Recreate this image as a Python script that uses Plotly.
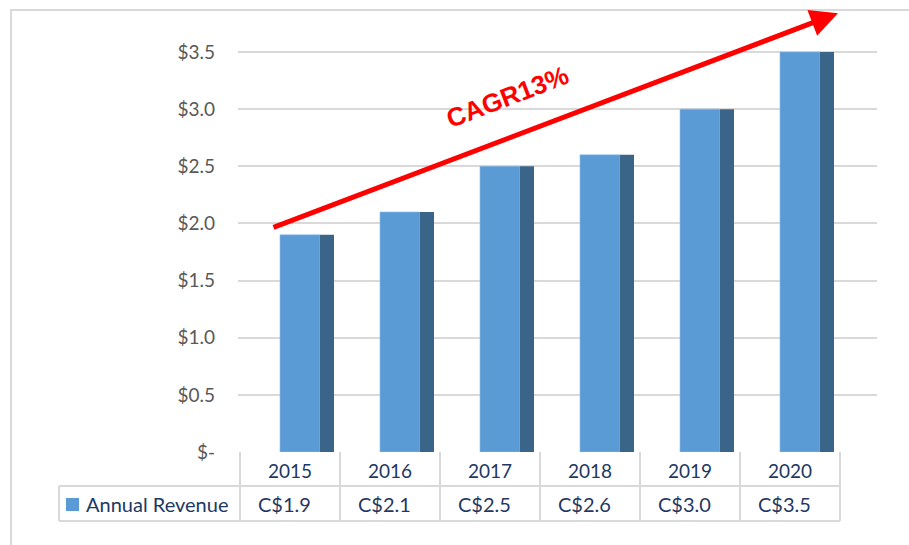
import plotly.graph_objects as go

years = ["2015", "2016", "2017", "2018", "2019", "2020"]
revenue = [1.9, 2.1, 2.5, 2.6, 3.0, 3.5]
revenue_labels = ["C$1.9", "C$2.1", "C$2.5", "C$2.6", "C$3.0", "C$3.5"]
tick_vals = [0, 0.5, 1.0, 1.5, 2.0, 2.5, 3.0, 3.5]
tick_text = ["$-", "$0.5", "$1.0", "$1.5", "$2.0", "$2.5", "$3.0", "$3.5"]

W, H = 909, 545
L, R, T, B = 238, 32, 12, 93
PW, PH = W - L - R, H - T - B

def px(x):  # pixel -> paper x
    return (x - L) / PW

def py(y):  # pixel -> paper y
    return (H - B - y) / PH

xs = list(range(len(years)))
font = "Lato, 'Open Sans', sans-serif"
grid = "#d9d9d9"
navy = "#1F3864"

fig = go.Figure()
# front face
fig.add_trace(go.Bar(x=xs, y=revenue, width=0.4, offset=-0.1,
                     marker=dict(color="#5B9BD5", line=dict(width=0.6, color="#8db8e3")),
                     showlegend=False, hoverinfo="y"))
# side face (3D depth)
fig.add_trace(go.Bar(x=xs, y=revenue, width=0.14, offset=0.3,
                     marker=dict(color="#3B6489", line=dict(width=0)),
                     showlegend=False, hoverinfo="skip"))

shapes = []
# outer frame
shapes.append(dict(type="rect", xref="paper", yref="paper",
                   x0=px(11), x1=px(916), y0=py(10), y1=py(552),
                   line=dict(color=grid, width=2)))
# data table lines
for i in range(len(years) + 1):
    shapes.append(dict(type="line", xref="x", yref="paper",
                       x0=i - 0.5, x1=i - 0.5, y0=py(452), y1=py(521),
                       line=dict(color=grid, width=2)))
for yy in (486, 521):
    shapes.append(dict(type="line", xref="paper", yref="paper",
                       x0=px(59), x1=px(840), y0=py(yy), y1=py(yy),
                       line=dict(color=grid, width=2)))
shapes.append(dict(type="line", xref="paper", yref="paper",
                   x0=px(59), x1=px(59), y0=py(486), y1=py(521),
                   line=dict(color=grid, width=2)))
# legend key
shapes.append(dict(type="rect", xref="paper", yref="paper",
                   x0=px(66), x1=px(79), y0=py(498), y1=py(511),
                   fillcolor="#5B9BD5", line=dict(width=0)))

annotations = []
for i, (yr, lab) in enumerate(zip(years, revenue_labels)):
    annotations.append(dict(x=i, y=py(470), xref="x", yref="paper", text=yr,
                            xanchor="center", yanchor="middle", showarrow=False,
                            font=dict(family=font, size=19, color="#203864")))
    annotations.append(dict(x=i - 0.06, y=py(504), xref="x", yref="paper", text=lab,
                            xanchor="center", yanchor="middle", showarrow=False,
                            font=dict(family=font, size=20, color=navy)))
annotations.append(dict(x=px(84), y=py(504), xref="paper", yref="paper", text="Annual Revenue",
                        xanchor="left", yanchor="middle", showarrow=False,
                        font=dict(family=font, size=20, color="#203864")))
# CAGR arrow
annotations.append(dict(x=5.48, y=3.84, xref="x", yref="y", ax=-0.18, ay=1.96,
                        axref="x", ayref="y", text="", showarrow=True,
                        arrowhead=2, arrowsize=1.1, arrowwidth=5, arrowcolor="#FF0000"))
annotations.append(dict(x=2.17, y=3.11, xref="x", yref="y", text="<b>CAGR13%</b>",
                        textangle=-21, showarrow=False,
                        font=dict(family="Arial, 'Liberation Sans', sans-serif", size=26, color="#FF0000")))

fig.update_layout(
    width=W, height=H,
    margin=dict(l=L, r=R, t=T, b=B),
    paper_bgcolor="white", plot_bgcolor="white",
    barmode="overlay",
    xaxis=dict(range=[-0.52, -0.52 + PW / 100], showticklabels=False, showgrid=False,
               zeroline=False, showline=False, fixedrange=True),
    yaxis=dict(range=[0, PH / (400 / 3.5)], tickvals=tick_vals, ticktext=tick_text,
               showgrid=True, gridcolor=grid, gridwidth=2, zeroline=False,
               ticklabelstandoff=22, tickfont=dict(family=font, size=19, color="#595959")),
    shapes=shapes, annotations=annotations,
    showlegend=False,
)

fig.write_html("out.html", config={"displayModeBar": False},
               post_script="document.body.style.margin='0';")
